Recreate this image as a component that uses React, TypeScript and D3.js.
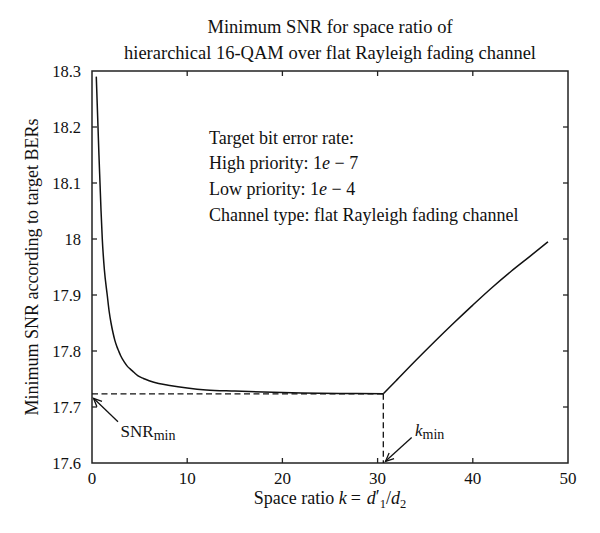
import React from "react";
import * as d3 from "d3";

// falling branch (k up to k_min)
const kLeft = [0.45, 0.55, 0.63, 0.73, 0.84, 0.95, 1.08, 1.3, 1.6, 1.8, 2.0, 2.2, 2.4, 2.6, 2.8, 3.0, 3.4, 3.7, 4.0, 4.4, 4.8, 5.4, 6.0, 7.0, 8.0, 10, 12, 15, 18, 22, 26, 30.6];
const snrLeft = [18.29, 18.24, 18.2, 18.15, 18.1, 18.05, 18.0, 17.945, 17.9, 17.871, 17.85, 17.833, 17.819, 17.8085, 17.8, 17.792, 17.78, 17.773, 17.768, 17.762, 17.756, 17.751, 17.747, 17.742, 17.739, 17.734, 17.7305, 17.7285, 17.7268, 17.7252, 17.7243, 17.7235];
// rising branch (k from k_min)
const kRight = [30.6, 32, 34, 36, 38, 40, 42, 44, 46, 47.9];
const snrRight = [17.7235, 17.748, 17.783, 17.817, 17.85, 17.882, 17.913, 17.942, 17.969, 17.995];

const xTicks = [0, 10, 20, 30, 40, 50];
const yTicks = [17.6, 17.7, 17.8, 17.9, 18.0, 18.1, 18.2, 18.3];
const yTickLabels = ["17.6", "17.7", "17.8", "17.9", "18", "18.1", "18.2", "18.3"];

const titleLines = ["Minimum SNR for space ratio of", "hierarchical 16-QAM over flat Rayleigh fading channel"];
const yLabel = "Minimum SNR according to target BERs";

const kMin = 30.6;
const snrMin = 17.7235;

// annotation anchors in data units: [k, snr]
const snrArrowTip = [0.16, 17.7155];
const snrArrowTail = [2.73, 17.6736];
const snrTextPos = [3.0, 17.647];
const kArrowTip = [30.83, 17.603];
const kArrowTail = [33.58, 17.6454];
const kTextPos = [33.93, 17.6485];
const infoPos = [12.3, 18.17];

const FONT = "'Liberation Serif', 'Times New Roman', serif";

function Arrow({ tip, tail }: { tip: number[]; tail: number[] }) {
  const ang = Math.atan2(tail[1] - tip[1], tail[0] - tip[0]);
  const len = 9;
  const spread = 0.42;
  const a1 = [tip[0] + len * Math.cos(ang + spread), tip[1] + len * Math.sin(ang + spread)];
  const a2 = [tip[0] + len * Math.cos(ang - spread), tip[1] + len * Math.sin(ang - spread)];
  return (
    <g stroke="#111" strokeWidth={1.3} fill="none">
      <line x1={tail[0]} y1={tail[1]} x2={tip[0]} y2={tip[1]} />
      <polyline points={`${a1[0]},${a1[1]} ${tip[0]},${tip[1]} ${a2[0]},${a2[1]}`} />
    </g>
  );
}

export default function App() {
  const W = 600, H = 533;
  const x = d3.scaleLinear().domain([0, 50]).range([92, 568]);
  const y = d3.scaleLinear().domain([17.6, 18.3]).range([463, 71]);
  const [x0, x1] = x.range();
  const [y0, y1] = y.range();
  const ptsL = kLeft.map((k, i) => [k, snrLeft[i]] as [number, number]);
  const ptsR = kRight.map((k, i) => [k, snrRight[i]] as [number, number]);
  const line = d3.line<[number, number]>().x(d => x(d[0])).y(d => y(d[1])).curve(d3.curveMonotoneX);
  const tl = 5;
  const P = (p: number[]) => [x(p[0]), y(p[1])];
  const fsTick = 16.5;
  const fsText = 18;

  return (
    <svg width={W} height={H} style={{ position: "absolute", left: 0, top: 0, background: "#fff" }} fontFamily={FONT}>
      <rect width={W} height={H} fill="#fff" />
      {/* title */}
      {titleLines.map((t, i) => (
        <text key={i} x={(x0 + x1) / 2} y={33 + i * 26} textAnchor="middle" fontSize={18.5} fill="#111">{t}</text>
      ))}
      {/* frame */}
      <rect x={x0} y={y1} width={x1 - x0} height={y0 - y1} fill="none" stroke="#222" strokeWidth={1.5} />
      {/* x ticks */}
      {xTicks.map(t => (
        <g key={t}>
          {t > 0 && t < 50 && <line x1={x(t)} x2={x(t)} y1={y0} y2={y0 - tl} stroke="#222" strokeWidth={1.3} />}
          {t > 0 && t < 50 && <line x1={x(t)} x2={x(t)} y1={y1} y2={y1 + tl} stroke="#222" strokeWidth={1.3} />}
          <text x={x(t)} y={y0 + 21} textAnchor="middle" fontSize={17} fill="#111">{t}</text>
        </g>
      ))}
      {/* y ticks */}
      {yTicks.map((t, i) => (
        <g key={t}>
          {i > 0 && i < yTicks.length - 1 && <line x1={x0} x2={x0 + tl} y1={y(t)} y2={y(t)} stroke="#222" strokeWidth={1.3} />}
          {i > 0 && i < yTicks.length - 1 && <line x1={x1} x2={x1 - tl} y1={y(t)} y2={y(t)} stroke="#222" strokeWidth={1.3} />}
          <text x={x0 - 11} y={y(t) + 6} textAnchor="end" fontSize={fsTick} fill="#111">{yTickLabels[i]}</text>
        </g>
      ))}
      {/* axis labels */}
      <text x={(x0 + x1) / 2} y={504} textAnchor="middle" fontSize={fsText} fill="#111">
        Space ratio <tspan fontStyle="italic">k</tspan>
        <tspan dx={4}>=</tspan>
        <tspan dx={6} fontStyle="italic">d</tspan>
        <tspan dy={-1}>′</tspan>
        <tspan dy={5} fontSize={12.5}>1</tspan>
        <tspan dy={-4}>/</tspan>
        <tspan fontStyle="italic">d</tspan>
        <tspan dy={4} fontSize={12.5}>2</tspan>
      </text>
      <text transform={`translate(38,${(y0 + y1) / 2}) rotate(-90)`} textAnchor="middle" fontSize={18} fill="#111">{yLabel}</text>
      {/* dashed guides */}
      <line x1={x0} x2={x(kMin)} y1={y(snrMin)} y2={y(snrMin)} stroke="#111" strokeWidth={1.3} strokeDasharray="6,3.5" />
      <line x1={x(kMin)} x2={x(kMin)} y1={y(snrMin)} y2={y0} stroke="#111" strokeWidth={1.3} strokeDasharray="6,3.5" />
      {/* curve */}
      <path d={line(ptsL) || ""} fill="none" stroke="#111" strokeWidth={1.5} />
      <path d={line(ptsR) || ""} fill="none" stroke="#111" strokeWidth={1.5} />
      {/* info text */}
      <text x={x(infoPos[0])} y={y(infoPos[1])} fontSize={fsText} fill="#111">
        <tspan x={x(infoPos[0])} dy={0}>Target bit error rate:</tspan>
        <tspan x={x(infoPos[0])} dy={25.6}>High priority: 1<tspan fontStyle="italic">e</tspan> − 7</tspan>
        <tspan x={x(infoPos[0])} dy={25.6}>Low priority: 1<tspan fontStyle="italic">e</tspan> − 4</tspan>
        <tspan x={x(infoPos[0])} dy={25.6}>Channel type: flat Rayleigh fading channel</tspan>
      </text>
      {/* annotations */}
      <Arrow tip={P(snrArrowTip)} tail={P(snrArrowTail)} />
      <text x={P(snrTextPos)[0]} y={P(snrTextPos)[1]} fontSize={17} fill="#111">
        SNR<tspan dy={3} fontSize={14}>min</tspan>
      </text>
      <Arrow tip={P(kArrowTip)} tail={P(kArrowTail)} />
      <text x={P(kTextPos)[0]} y={P(kTextPos)[1]} fontSize={17} fill="#111">
        <tspan fontStyle="italic">k</tspan><tspan dy={3} fontSize={14}>min</tspan>
      </text>
    </svg>
  );
}
